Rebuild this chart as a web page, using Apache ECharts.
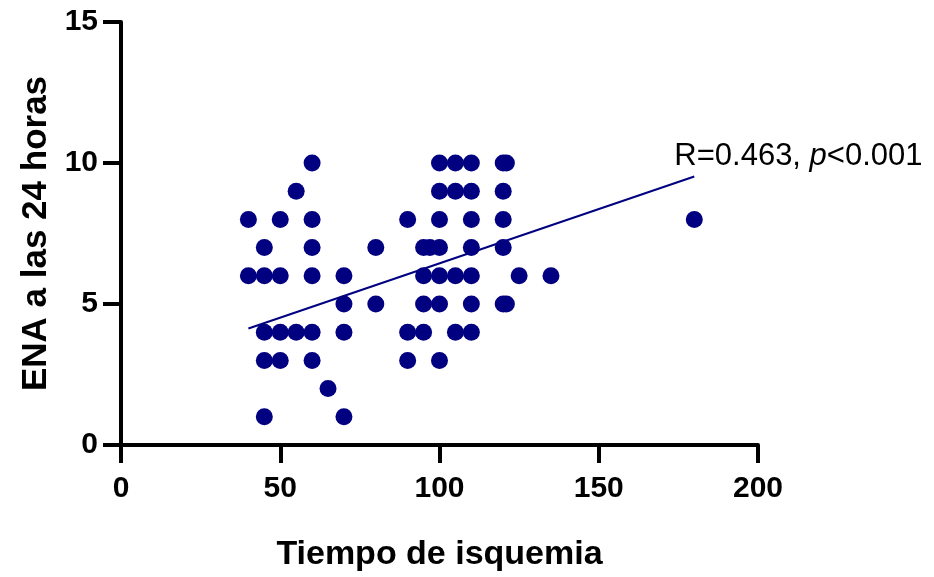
<!DOCTYPE html>
<html>
<head>
<meta charset="utf-8">
<script src="https://cdn.jsdelivr.net/npm/echarts@6/dist/echarts.min.js"></script>
<style>html,body{margin:0;padding:0;background:#fff}#c{width:934px;height:577px}</style>
</head>
<body>
<div id="c"></div>
<script>
// Scatter data: Tiempo de isquemia (x) vs ENA a las 24 horas (y)
const tiempo = [40,40, 45,45,45,45,45, 50,50,50,50, 55,55, 60,60,60,60,60,60, 65, 70,70,70,70, 80,80, 90,90,90, 95,95,95,95, 97, 100,100,100,100,100,100,100, 105,105,105,105, 110,110,110,110,110,110,110, 120,120,120,120,120, 121,121, 125, 135, 180];
const ena    = [8,6,    7,6,4,3,1,          8,6,4,3,     9,4,   10,8,7,6,4,3,         2,  6,5,4,1,     7,5,   8,4,3,    7,6,5,4,     7,  10,9,8,7,6,5,3,                10,9,6,4,            10,9,8,7,6,5,4,                       10,9,8,7,5,              10,5,    6,   6,   8];
// Regression line endpoints
const fitX = [40, 180];
const fitY = [4.13, 9.52];
const annotation = ['R=0.463, ', 'p', '<0.001'];
const xTicks = [0, 200, 50];
const yTicks = [0, 15, 5];

const FONT = 'Arial, "Liberation Sans", sans-serif';
const chart = echarts.init(document.getElementById('c'), null, {renderer: 'canvas'});
const pts = tiempo.map((x, i) => [x, ena[i]]);
const fit = fitX.map((x, i) => [x, fitY[i]]);

chart.setOption({
  animation: false,
  backgroundColor: '#fff',
  grid: {left: 121, right: 176, top: 22, bottom: 132},
  xAxis: {
    type: 'value', min: xTicks[0], max: xTicks[1], interval: xTicks[2],
    splitLine: {show: false},
    axisLine: {show: true, lineStyle: {color: '#000', width: 4}},
    axisTick: {show: true, length: 18, lineStyle: {color: '#000', width: 4}},
    axisLabel: {color: '#000', fontSize: 30, fontWeight: 'bold', fontFamily: FONT, margin: 29},
    name: 'Tiempo de isquemia', nameLocation: 'middle', nameGap: 93,
    nameTextStyle: {color: '#000', fontSize: 34, fontWeight: 'bold', fontFamily: FONT}
  },
  yAxis: {
    type: 'value', min: yTicks[0], max: yTicks[1], interval: yTicks[2],
    splitLine: {show: false},
    axisLine: {show: true, lineStyle: {color: '#000', width: 4}},
    axisTick: {show: true, length: 18, lineStyle: {color: '#000', width: 4}},
    axisLabel: {color: '#000', fontSize: 30, fontWeight: 'bold', fontFamily: FONT, margin: 23},
    name: 'ENA a las 24 horas', nameLocation: 'middle', nameGap: 60, nameRotate: 90,
    nameTextStyle: {color: '#000', fontSize: 35, fontWeight: 'bold', fontFamily: FONT}
  },
  series: [
    {type: 'scatter', data: pts, symbol: 'circle', symbolSize: 17,
     itemStyle: {color: '#000080', opacity: 1}, z: 3},
    {type: 'line', data: fit, showSymbol: false, symbol: 'none',
     lineStyle: {color: '#000080', width: 2}, z: 2}
  ]
});

const endPx = chart.convertToPixel({gridIndex: 0}, fit[fit.length - 1]);
chart.setOption({
  graphic: [{
    type: 'text', x: endPx[0] - 20, y: endPx[1] - 36, z: 10,
    style: {
      text: '{a|' + annotation[0] + '}{b|' + annotation[1] + '}{a|' + annotation[2] + '}',
      verticalAlign: 'top', align: 'left',
      rich: {
        a: {fontSize: 31, fontFamily: FONT, fill: '#000', lineHeight: 31},
        b: {fontSize: 31, fontFamily: FONT, fontStyle: 'italic', fill: '#000', lineHeight: 31}
      }
    }
  }]
});
</script>
</body>
</html>
